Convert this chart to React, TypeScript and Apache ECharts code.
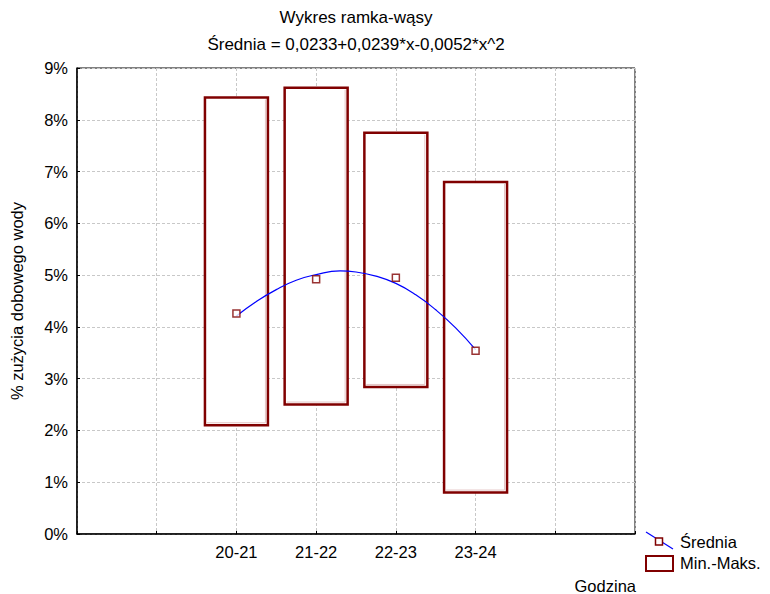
import React, { useEffect, useRef } from "react";
import * as echarts from "echarts";

const categories = ["20-21", "21-22", "22-23", "23-24"];
const boxMin = [2.1, 2.5, 2.84, 0.8];
const boxMax = [8.43, 8.62, 7.75, 6.8];
const means = [4.26, 4.92, 4.95, 3.54];
// fitted curve (x position, value in %)
const curveX = [1, 1.25, 1.5, 1.75, 2, 2.3, 2.5, 2.75, 3, 3.25, 3.5, 3.75, 4];
const curveY = [4.21, 4.49, 4.72, 4.9, 5.01, 5.08, 5.06, 4.98, 4.84, 4.62, 4.33, 3.98, 3.56];
const yTicks = [0, 1, 2, 3, 4, 5, 6, 7, 8, 9];

const FONT = "'Liberation Sans', Arial, sans-serif";
const FS = 16.5;

export default function App() {
  const ref = useRef<HTMLDivElement>(null);
  useEffect(() => {
    if (!ref.current) return;
    const chart = echarts.init(ref.current, undefined, { renderer: "svg" });
    const boxData = categories.map((_, i) => [i + 1, boxMin[i], boxMax[i]]);
    const meanData = means.map((m, i) => [i + 1, m]);
    const curveData = curveX.map((x, i) => [x, curveY[i]]);
    chart.setOption({
      animation: false,
      textStyle: { fontFamily: FONT },
      title: {
        text: "Wykres ramka-wąsy\nŚrednia = 0,0233+0,0239*x-0,0052*x^2",
        left: 356,
        top: 4,
        padding: 0,
        textAlign: "center",
        textStyle: {
          fontFamily: FONT,
          fontSize: 17,
          fontWeight: "normal",
          color: "#000",
          lineHeight: 27,
        },
      },
      grid: {
        left: 77,
        right: 135,
        top: 68,
        bottom: 60,
        show: true,
        borderColor: "#000",
        borderWidth: 1,
        backgroundColor: "transparent",
      },
      xAxis: {
        type: "value",
        min: -1,
        max: 6,
        interval: 1,
        axisLine: { show: true, onZero: false, lineStyle: { color: "#000", width: 1.5 } },
        axisTick: { show: true, inside: true, length: 3, lineStyle: { color: "#000" } },
        axisLabel: {
          color: "#000",
          fontSize: FS,
          fontFamily: FONT,
          margin: 9,
          formatter: (v: number) => (v >= 1 && v <= categories.length ? categories[v - 1] : ""),
        },
        splitLine: { show: true, lineStyle: { color: "#c8c8c8", type: [3, 2], width: 1 } },
      },
      yAxis: {
        type: "value",
        min: 0,
        max: 9,
        interval: 1,
        name: "% zużycia dobowego wody",
        nameLocation: "middle",
        nameGap: 52,
        nameRotate: 90,
        nameTextStyle: { color: "#000", fontSize: FS, fontFamily: FONT },
        axisLine: { show: true, onZero: false, lineStyle: { color: "#000", width: 1.5 } },
        axisTick: { show: true, inside: true, length: 3, lineStyle: { color: "#000" } },
        axisLabel: {
          color: "#000",
          fontSize: FS,
          fontFamily: FONT,
          margin: 9,
          formatter: (v: number) => (yTicks.includes(v) ? `${v}%` : ""),
        },
        splitLine: { show: true, lineStyle: { color: "#c8c8c8", type: [3, 2], width: 1 } },
      },
      series: [
        {
          type: "custom",
          name: "Min.-Maks.",
          data: boxData,
          encode: { x: 0, y: [1, 2] },
          renderItem: (params: any, api: any) => {
            const x = api.value(0);
            const lo = api.value(1);
            const hi = api.value(2);
            const p1 = api.coord([x - 0.395, hi]);
            const p2 = api.coord([x + 0.395, lo]);
            return {
              type: "group",
              children: [
                {
                  type: "rect",
                  shape: { x: p1[0], y: p1[1], width: p2[0] - p1[0], height: p2[1] - p1[1] },
                  style: { fill: "#fff", stroke: "#800000", lineWidth: 2.5 },
                },
                {
                  type: "polyline",
                  shape: {
                    points: [
                      [p2[0] - 2.5, p1[1] + 2],
                      [p2[0] - 2.5, p2[1] - 2.5],
                      [p1[0] + 2, p2[1] - 2.5],
                    ],
                  },
                  style: { fill: "none", stroke: "#e3c4c4", lineWidth: 1 },
                },
              ],
            };
          },
          z: 2,
        },
        {
          type: "line",
          name: "curve",
          data: curveData,
          smooth: true,
          showSymbol: false,
          lineStyle: { color: "#0000ff", width: 1.2 },
          z: 3,
        },
        {
          type: "scatter",
          name: "Średnia",
          data: meanData,
          symbol: "rect",
          symbolSize: 7,
          itemStyle: { color: "#fff", borderColor: "#800000", borderWidth: 1.5 },
          z: 4,
        },
      ],
      graphic: [
        {
          type: "text",
          right: 770 - 636,
          top: 577,
          style: { text: "Godzina", fill: "#000", font: `${FS}px ${FONT}`, textAlign: "right" },
        },
        {
          type: "line",
          shape: { x1: 646, y1: 532, x2: 673, y2: 549 },
          style: { stroke: "#0000ff", lineWidth: 1.2 },
        },
        {
          type: "rect",
          shape: { x: 655.5, y: 538, width: 7, height: 7 },
          style: { fill: "#fff", stroke: "#800000", lineWidth: 1.5 },
        },
        {
          type: "text",
          left: 680,
          top: 533,
          style: { text: "Średnia", fill: "#000", font: `${FS}px ${FONT}` },
        },
        {
          type: "rect",
          shape: { x: 646, y: 556, width: 27, height: 15 },
          style: { fill: "#fff", stroke: "#800000", lineWidth: 2 },
        },
        {
          type: "text",
          left: 680,
          top: 554,
          style: { text: "Min.-Maks.", fill: "#000", font: `${FS}px ${FONT}` },
        },
      ],
    });
    return () => chart.dispose();
  }, []);
  return <div ref={ref} style={{ width: 770, height: 594, position: "absolute", left: 0, top: 0 }} />;
}
